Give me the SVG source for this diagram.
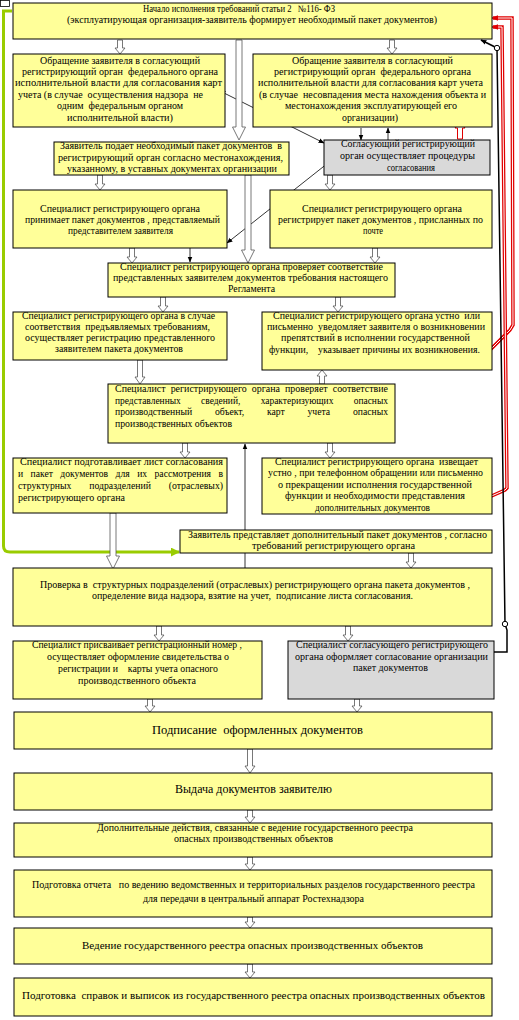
<svg xmlns="http://www.w3.org/2000/svg" width="519" height="1020" viewBox="0 0 519 1020" font-family="'Liberation Serif','DejaVu Serif','Times New Roman',serif">
<style>
.b{fill:#ffff99;stroke:#000;stroke-width:1}
.g{fill:#d9d9d9;stroke:#000;stroke-width:1}
text{font-family:'Liberation Serif','DejaVu Serif','Times New Roman',serif;font-size:9.5px;fill:#000;white-space:pre}
.l{font-size:12px}
.m{font-size:10.5px}
.ha{fill:#fff;stroke:#555;stroke-width:0.8}
.ra{fill:#fff;stroke:#e00000;stroke-width:1}
.tl{stroke:#000;stroke-width:0.8;fill:none}
</style>
<defs>
<marker id="ah" viewBox="0 0 10 10" refX="9" refY="5" markerWidth="6" markerHeight="6" orient="auto-start-reverse" markerUnits="userSpaceOnUse"><path d="M0,1 L10,5 L0,9 Z" fill="#000"/></marker>
<marker id="rh" viewBox="0 0 10 10" refX="9" refY="5" markerWidth="7" markerHeight="7" orient="auto" markerUnits="userSpaceOnUse"><path d="M0,1 L10,5 L0,9 Z" fill="#e00000"/></marker>
<marker id="gh" viewBox="0 0 10 10" refX="9" refY="5" markerWidth="9" markerHeight="9" orient="auto" markerUnits="userSpaceOnUse"><path d="M0,0 L10,5 L0,10 Z" fill="#99cc00"/></marker>
</defs>
<rect x="0" y="0" width="519" height="1020" fill="#fff"/>
<rect x="0.5" y="0.5" width="9" height="6" fill="#fff" stroke="#000" stroke-width="0.8"/>

<g id="connectors">
<line class="tl" x1="245" y1="568" x2="245" y2="444" marker-end="url(#ah)"/>
<path d="M12,11 H3.5 V546 Q3.5,552 10,552 H179" fill="none" stroke="#99cc00" stroke-width="3" marker-end="url(#gh)"/>
<path d="M487,353 L510,330 L513,325 L512,18 L493,18" fill="none" stroke="#e00000" stroke-width="3.5"/>
<path d="M487,353 L510,330 L513,325 L512,18 L493,18" fill="none" stroke="#fff" stroke-width="1"/>
<path d="M487,498 L505,490 L507,488 L502,27 L493,27" fill="none" stroke="#e00000" stroke-width="3.5"/>
<path d="M487,498 L505,490 L507,488 L502,27 L493,27" fill="none" stroke="#fff" stroke-width="1"/>
<path d="M496,18 L492,18" stroke="#e00000" stroke-width="1" marker-end="url(#rh)"/>
<path d="M496,27 L492,27" stroke="#e00000" stroke-width="1" marker-end="url(#rh)"/>
<path d="M494,652 H507 V630 L505,624 L497,48" fill="none" stroke="#000" stroke-width="1.5"/>
<line x1="497" y1="48" x2="481" y2="40" stroke="#000" stroke-width="1.8" marker-end="url(#ah)"/>
<circle cx="497" cy="48" r="2.7" fill="#fff" stroke="#000" stroke-width="1"/>
<circle cx="505" cy="624" r="2.7" fill="#fff" stroke="#000" stroke-width="1"/>
<line class="tl" x1="190" y1="248" x2="190" y2="262" marker-end="url(#ah)"/>
<line class="tl" x1="361" y1="128" x2="361" y2="140" marker-end="url(#ah)"/>
<line class="tl" x1="388" y1="140" x2="388" y2="128" marker-end="url(#ah)"/>
<line class="tl" x1="220" y1="91" x2="324" y2="143" marker-start="url(#ah)" marker-end="url(#ah)"/>
<line class="tl" x1="328" y1="163" x2="227" y2="243" marker-end="url(#ah)"/>
<path class="ha" d="M117.5,40 H122.5 V48 H125 L120,54 L115,48 H117.5 Z"/>
<path class="ha" d="M389.5,40 H394.5 V48 H397 L392,54 L387,48 H389.5 Z"/>
<path class="ha" d="M236,40 H242 V127 H245.5 L239,140 L232.5,127 H236 Z"/>
<path class="ha" d="M245,175 H251 V250 H254.5 L248,263 L241.5,250 H245 Z"/>
<path class="ha" d="M97.5,175 H102.5 V184 H105 L100,190 L95,184 H97.5 Z"/>
<path class="ha" d="M327.5,175 H332.5 V184 H335 L330,190 L325,184 H327.5 Z"/>
<path class="ha" d="M129.5,248 H134.5 V257 H137 L132,263 L127,257 H129.5 Z"/>
<path class="ha" d="M372.5,248 H377.5 V257 H380 L375,263 L370,257 H372.5 Z"/>
<path class="ha" d="M160.5,297 H165.5 V306 H168 L163,312 L158,306 H160.5 Z"/>
<path class="ha" d="M335.5,297 H340.5 V306 H343 L338,312 L333,306 H335.5 Z"/>
<path class="ha" d="M137.5,360 H142.5 V377 H145 L140,384 L135,377 H137.5 Z"/>
<path class="ha" d="M319.5,384 H324.5 V376 H327 L322,370 L317,376 H319.5 Z"/>
<path class="ha" d="M182.5,443 H187.5 V452 H190 L185,458 L180,452 H182.5 Z"/>
<path class="ha" d="M327.5,443 H332.5 V452 H335 L330,458 L325,452 H327.5 Z"/>
<path class="ha" d="M110,513 H116 V556 H119.5 L113,569 L106.5,556 H110 Z"/>
<path class="ha" d="M408.5,553 H413.5 V562 H416 L411,568 L406,562 H408.5 Z"/>
<path class="ha" d="M156.5,626 H161.5 V635 H164 L159,641 L154,635 H156.5 Z"/>
<path class="ha" d="M345.5,626 H350.5 V635 H353 L348,641 L343,635 H345.5 Z"/>
<path class="ha" d="M147.5,699 H152.5 V706 H155 L150,712 L145,706 H147.5 Z"/>
<path class="ha" d="M354.5,699 H359.5 V706 H362 L357,712 L352,706 H354.5 Z"/>
<path class="ha" d="M247.5,749 H252.5 V766 H255 L250,773 L245,766 H247.5 Z"/>
<path class="ha" d="M247.5,810 H252.5 V817 H255 L250,823 L245,817 H247.5 Z"/>
<path class="ha" d="M247.5,857 H252.5 V864 H255 L250,870 L245,864 H247.5 Z"/>
<path class="ha" d="M247.5,917 H252.5 V922 H255 L250,928 L245,922 H247.5 Z"/>
<path class="ha" d="M247.5,964 H252.5 V972 H255 L250,978 L245,972 H247.5 Z"/>
<path class="ra" d="M457.5,139 H462.5 V128 H465 L460,121 L455,128 H457.5 Z"/>
</g>

<g id="n1"><rect class="b" x="13" y="3" width="479" height="36"/>
<text x="143" y="11.5" textLength="192" lengthAdjust="spacingAndGlyphs">Начало исполнения требований статьи 2   №116- ФЗ</text>
<text x="67" y="23" textLength="370" lengthAdjust="spacingAndGlyphs">(эксплуатирующая организация-заявитель формирует необходимый пакет документов)</text></g>

<g id="n2"><rect class="b" x="13" y="54" width="212" height="73"/>
<text x="40" y="64" textLength="160" lengthAdjust="spacingAndGlyphs">Обращение заявителя в согласующий</text>
<text x="22" y="75" textLength="196" lengthAdjust="spacingAndGlyphs">регистрирующий орган  федерального органа</text>
<text x="15" y="86" textLength="207" lengthAdjust="spacingAndGlyphs">исполнительной власти для согласования карт</text>
<text x="18" y="98" textLength="185" lengthAdjust="spacingAndGlyphs">учета (в случае  осуществления надзора  не</text>
<text x="57" y="109" textLength="126" lengthAdjust="spacingAndGlyphs">одним  федеральным органом</text>
<text x="67" y="121" textLength="106" lengthAdjust="spacingAndGlyphs">исполнительной власти)</text></g>

<g id="n3"><rect class="b" x="253" y="54" width="239" height="73"/>
<text x="292" y="64" textLength="161" lengthAdjust="spacingAndGlyphs">Обращение заявителя в согласующий</text>
<text x="274" y="75" textLength="197" lengthAdjust="spacingAndGlyphs">регистрирующий орган  федерального органа</text>
<text x="258" y="86" textLength="225" lengthAdjust="spacingAndGlyphs">исполнительной власти для согласования карт учета</text>
<text x="259" y="98" textLength="227" lengthAdjust="spacingAndGlyphs">(в случае  несовпадения места нахождения объекта и</text>
<text x="285" y="109" textLength="172" lengthAdjust="spacingAndGlyphs">местонахождения эксплуатирующей его</text>
<text x="342" y="121" textLength="56" lengthAdjust="spacingAndGlyphs">организации)</text></g>

<g id="n4"><rect class="b" x="54" y="142" width="235" height="33"/>
<text x="60" y="149" textLength="222" lengthAdjust="spacingAndGlyphs">Заявитель подает необходимый пакет документов  в</text>
<text x="58" y="160.5" textLength="225" lengthAdjust="spacingAndGlyphs">регистрирующий орган согласно местонахождения,</text>
<text x="67" y="172" textLength="210" lengthAdjust="spacingAndGlyphs">указанному, в уставных документах организации</text></g>

<g id="n5"><rect class="g" x="324" y="140" width="166" height="35"/>
<text x="341" y="147" textLength="134" lengthAdjust="spacingAndGlyphs">Согласующий регистрирующий</text>
<text x="340" y="159" textLength="135" lengthAdjust="spacingAndGlyphs">орган осуществляет процедуры</text>
<text x="387" y="171" textLength="48" lengthAdjust="spacingAndGlyphs">согласования</text></g>

<g id="n6"><rect class="b" x="13" y="190" width="214" height="58"/>
<text x="40" y="212" textLength="160" lengthAdjust="spacingAndGlyphs">Специалист регистрирующего органа</text>
<text x="25" y="223" textLength="195" lengthAdjust="spacingAndGlyphs">принимает пакет документов , представляемый</text>
<text x="68" y="234" textLength="105" lengthAdjust="spacingAndGlyphs">представителем заявителя</text></g>

<g id="n7"><rect class="b" x="270" y="190" width="222" height="58"/>
<text x="302" y="212" textLength="160" lengthAdjust="spacingAndGlyphs">Специалист регистрирующего органа</text>
<text x="278" y="223" textLength="205" lengthAdjust="spacingAndGlyphs">регистрирует пакет документов , присланных по</text>
<text x="363" y="234" textLength="20" lengthAdjust="spacingAndGlyphs">почте</text></g>

<g id="n8"><rect class="b" x="108" y="263" width="287" height="34"/>
<text x="120" y="270" textLength="263" lengthAdjust="spacingAndGlyphs">Специалист регистрирующего органа проверяет соответствие</text>
<text x="113" y="281" textLength="275" lengthAdjust="spacingAndGlyphs">представленных заявителем документов требования настоящего</text>
<text x="228" y="292" textLength="47" lengthAdjust="spacingAndGlyphs">Регламента</text></g>

<g id="n9"><rect class="b" x="13" y="312" width="214" height="48"/>
<text x="22" y="319" textLength="193" lengthAdjust="spacingAndGlyphs">Специалист регистрирующего органа в случае</text>
<text x="25" y="330" textLength="185" lengthAdjust="spacingAndGlyphs">соответствия  предъявляемых требованиям,</text>
<text x="25" y="341" textLength="190" lengthAdjust="spacingAndGlyphs">осуществляет регистрацию представленного</text>
<text x="55" y="352" textLength="128" lengthAdjust="spacingAndGlyphs">заявителем пакета документов</text></g>

<g id="n10"><rect class="b" x="262" y="312" width="230" height="58"/>
<text x="273" y="319" textLength="207" lengthAdjust="spacingAndGlyphs">Специалист регистрирующего органа устно  или</text>
<text x="267" y="330" textLength="218" lengthAdjust="spacingAndGlyphs">письменно  уведомляет заявителя о возникновении</text>
<text x="281" y="341" textLength="189" lengthAdjust="spacingAndGlyphs">препятствий в исполнении государственной</text>
<text x="269" y="353" textLength="211" lengthAdjust="spacingAndGlyphs">функции,    указывает причины их возникновения.</text></g>

<g id="n11"><rect class="b" x="108" y="384" width="287" height="59"/>
<text x="115" y="392" word-spacing="2.5" textLength="273" lengthAdjust="spacingAndGlyphs">Специалист регистрирующего органа проверяет соответствие</text>
<text x="115" y="403.5" word-spacing="18" textLength="273" lengthAdjust="spacingAndGlyphs">представленных сведений, характеризующих опасных</text>
<text x="115" y="415" word-spacing="20" textLength="273" lengthAdjust="spacingAndGlyphs">производственный объект, карт учета опасных</text>
<text x="115" y="426.5" textLength="117" lengthAdjust="spacingAndGlyphs">производственных объектов</text></g>

<g id="n12"><rect class="b" x="13" y="458" width="214" height="55"/>
<text x="20" y="465" textLength="203" lengthAdjust="spacingAndGlyphs">Специалист подготавливает лист согласования</text>
<text x="18" y="477" word-spacing="5" textLength="205" lengthAdjust="spacingAndGlyphs">и пакет документов для их рассмотрения в</text>
<text x="18" y="489" word-spacing="15" textLength="205" lengthAdjust="spacingAndGlyphs">структурных подразделений (отраслевых)</text>
<text x="18" y="501" textLength="107" lengthAdjust="spacingAndGlyphs">регистрирующего органа</text></g>

<g id="n13"><rect class="b" x="262" y="458" width="230" height="56"/>
<text x="275" y="464.5" textLength="203" lengthAdjust="spacingAndGlyphs">Специалист регистрирующего органа  извещает</text>
<text x="268" y="476" textLength="215" lengthAdjust="spacingAndGlyphs">устно , при телефонном обращении или письменно</text>
<text x="278" y="487.5" textLength="194" lengthAdjust="spacingAndGlyphs">о прекращении исполнения государственной</text>
<text x="285" y="499" textLength="180" lengthAdjust="spacingAndGlyphs">функции и необходимости представления</text>
<text x="315" y="510.5" textLength="115" lengthAdjust="spacingAndGlyphs">дополнительных документов</text></g>

<g id="n14"><rect class="b" x="180" y="530" width="312" height="23"/>
<text x="188" y="538" textLength="299" lengthAdjust="spacingAndGlyphs">Заявитель представляет дополнительный пакет документов , согласно</text>
<text x="252" y="549" textLength="163" lengthAdjust="spacingAndGlyphs">требований регистрирующего органа</text></g>

<g id="n15"><rect class="b" x="13" y="568" width="479" height="58"/>
<text x="40" y="588" textLength="430" lengthAdjust="spacingAndGlyphs">Проверка в  структурных подразделений (отраслевых) регистрирующего органа пакета документов ,</text>
<text x="92" y="599" textLength="321" lengthAdjust="spacingAndGlyphs">определение вида надзора, взятие на учет,  подписание листа согласования.</text></g>

<g id="n16"><rect class="b" x="13" y="641" width="249" height="58"/>
<text x="32" y="648" textLength="210" lengthAdjust="spacingAndGlyphs">Специалист присваивает регистрационный номер ,</text>
<text x="47" y="660" textLength="182" lengthAdjust="spacingAndGlyphs">осуществляет оформление свидетельства о</text>
<text x="58" y="672" textLength="160" lengthAdjust="spacingAndGlyphs">регистрации и    карты учета опасного</text>
<text x="78" y="684" textLength="118" lengthAdjust="spacingAndGlyphs">производственного объекта</text></g>

<g id="n17"><rect class="g" x="288" y="641" width="206" height="58"/>
<text x="296" y="648" textLength="192" lengthAdjust="spacingAndGlyphs">Специалист согласующего регистрирующего</text>
<text x="295" y="660" textLength="193" lengthAdjust="spacingAndGlyphs">органа оформляет согласование организации</text>
<text x="353" y="671" textLength="75" lengthAdjust="spacingAndGlyphs">пакет документов</text></g>

<g id="n18"><rect class="b" x="14" y="712" width="478" height="37"/>
<text class="l" x="152" y="734" textLength="211" lengthAdjust="spacingAndGlyphs">Подписание  оформленных документов</text></g>

<g id="n19"><rect class="b" x="14" y="773" width="478" height="37"/>
<text class="l" x="175" y="793" textLength="157" lengthAdjust="spacingAndGlyphs">Выдача документов заявителю</text></g>

<g id="n20"><rect class="b" x="14" y="823" width="478" height="34"/>
<text x="97" y="831" textLength="316" lengthAdjust="spacingAndGlyphs">Дополнительные действия, связанные с ведение государственного реестра</text>
<text x="174" y="842" textLength="159" lengthAdjust="spacingAndGlyphs">опасных производственных объектов</text></g>

<g id="n21"><rect class="b" x="14" y="870" width="478" height="47"/>
<text x="32" y="888" textLength="443" lengthAdjust="spacingAndGlyphs">Подготовка отчета   по ведению ведомственных и территориальных разделов государственного реестра</text>
<text x="143" y="902" textLength="221" lengthAdjust="spacingAndGlyphs">для передачи в центральный аппарат Ростехнадзора</text></g>

<g id="n22"><rect class="b" x="14" y="928" width="478" height="36"/>
<text class="m" x="82" y="949" textLength="341" lengthAdjust="spacingAndGlyphs">Ведение государственного реестра опасных производственных объектов</text></g>

<g id="n23"><rect class="b" x="14" y="978" width="478" height="38"/>
<text class="m" x="22" y="999" textLength="463" lengthAdjust="spacingAndGlyphs">Подготовка  справок и выписок из государственного реестра опасных производственных объектов</text></g>
</svg>
